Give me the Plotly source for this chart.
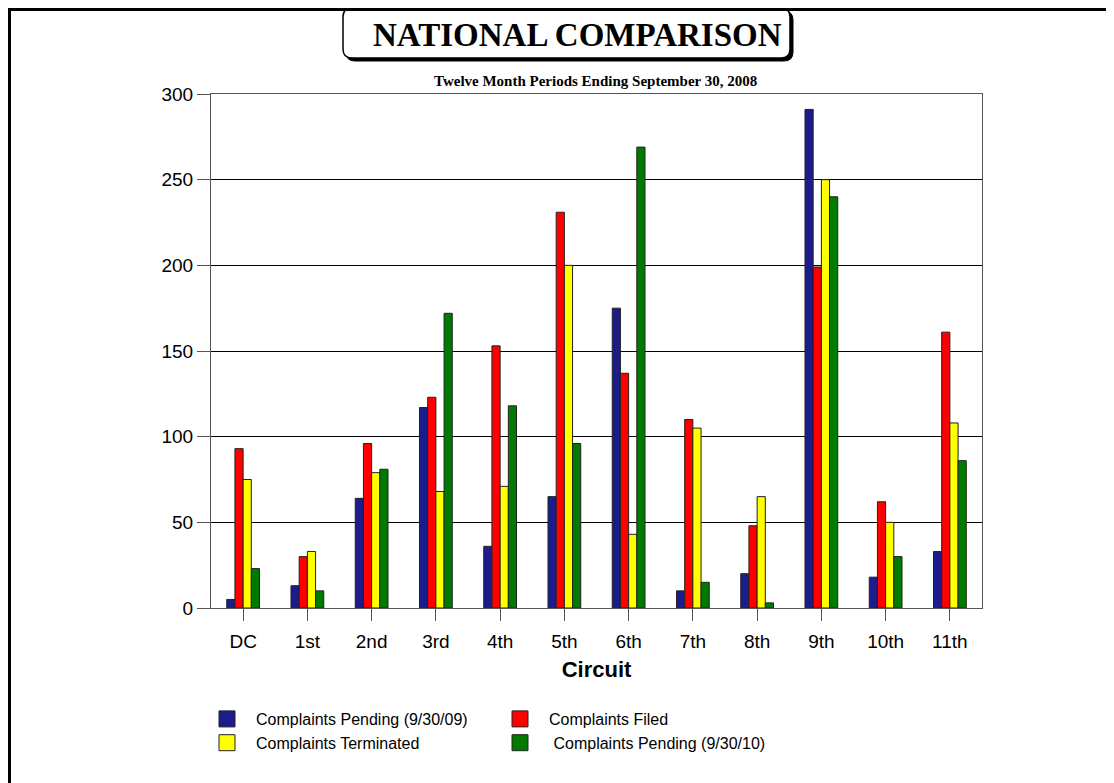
import plotly.graph_objects as go

circuits = ["DC", "1st", "2nd", "3rd", "4th", "5th", "6th", "7th", "8th", "9th", "10th", "11th"]

pending_09 = [5, 13, 64, 117, 36, 65, 175, 10, 20, 291, 18, 33]
filed = [93, 30, 96, 123, 153, 231, 137, 110, 48, 199, 62, 161]
terminated = [75, 33, 79, 68, 71, 200, 43, 105, 65, 250, 50, 108]
pending_10 = [23, 10, 81, 172, 118, 96, 269, 15, 3, 240, 30, 86]

series_names = ["Complaints Pending (9/30/09)", "Complaints Filed",
                "Complaints Terminated", " Complaints Pending (9/30/10)"]
series_colors = ["#1c1c8c", "#ff0000", "#ffff00", "#007a00"]
series_legend = ["legend", "legend2", "legend", "legend2"]

# page is drawn with an 8px body margin, so the figure is a bit smaller
OFF = 8
FW, FH = 1114 - OFF, 783 - OFF
# plot area in page pixels
L, R, T, B = 211, 982, 94, 608


def px_x(x):
    return (x - L) / (R - L)


def px_y(y):
    return (B - y) / (B - T)


fig = go.Figure()
for name, vals, col, lg in zip(series_names, [pending_09, filed, terminated, pending_10],
                               series_colors, series_legend):
    fig.add_trace(go.Bar(x=circuits, y=vals, name=name, marker_color=col,
                         marker_line=dict(color="#222222", width=1), showlegend=False))
    # legend-only entry so the swatch can be a bigger square
    fig.add_trace(go.Scatter(x=[None], y=[None], mode="markers", name=name, legend=lg,
                             marker=dict(symbol="square", size=16, color=col,
                                         line=dict(color="#222222", width=1))))


def rounded(x0, y0, x1, y1, r):
    # rounded rectangle given in page pixels -> paper path
    pts = [
        ("M", x0 + r, y0), ("L", x1 - r, y0), ("Q", x1, y0, x1, y0 + r),
        ("L", x1, y1 - r), ("Q", x1, y1, x1 - r, y1), ("L", x0 + r, y1),
        ("Q", x0, y1, x0, y1 - r), ("L", x0, y0 + r), ("Q", x0, y0, x0 + r, y0),
    ]
    out = []
    for p in pts:
        if p[0] == "Q":
            out.append("Q%.5f,%.5f %.5f,%.5f" % (px_x(p[1]), px_y(p[2]), px_x(p[3]), px_y(p[4])))
        else:
            out.append("%s%.5f,%.5f" % (p[0], px_x(p[1]), px_y(p[2])))
    return " ".join(out) + " Z"


shapes = [
    # title box shadow + box
    dict(type="path", xref="paper", yref="paper", path=rounded(346, 11, 793, 61, 9),
         fillcolor="#000000", line=dict(color="#000000", width=1), layer="above"),
    dict(type="path", xref="paper", yref="paper", path=rounded(343, 8, 790, 58, 9),
         fillcolor="#ffffff", line=dict(color="#000000", width=1.5), layer="above"),
    # page frame (left and top)
    dict(type="line", xref="paper", yref="paper", x0=px_x(9.5), x1=px_x(9.5), y0=px_y(9), y1=px_y(800),
         line=dict(color="#000000", width=3)),
    dict(type="line", xref="paper", yref="paper", x0=px_x(8), x1=px_x(1120), y0=px_y(9.5), y1=px_y(9.5),
         line=dict(color="#000000", width=3)),
]

annotations = [
    dict(text="<b>NATIONAL COMPARISON</b>", xref="paper", yref="paper", x=px_x(577), y=px_y(35),
         xanchor="center", yanchor="middle", showarrow=False,
         font=dict(family="Liberation Serif", size=33, color="#000000")),
    dict(text="<b>Twelve Month Periods Ending September 30, 2008</b>", xref="paper", yref="paper",
         x=px_x(595), y=px_y(81), xanchor="center", yanchor="middle", showarrow=False,
         font=dict(family="Liberation Serif", size=15, color="#000000")),
]

legend_style = dict(orientation="v", xanchor="left", yanchor="top", itemwidth=48,
                    font=dict(family="Liberation Sans", size=16, color="#000000"),
                    bgcolor="rgba(0,0,0,0)", tracegroupgap=0)

fig.update_layout(
    width=FW, height=FH,
    margin=dict(l=L - OFF, r=FW - (R - OFF), t=T - OFF, b=FH - (B - OFF), pad=0),
    paper_bgcolor="white", plot_bgcolor="white",
    barmode="group", bargap=0.49, bargroupgap=0,
    font=dict(family="Liberation Sans", color="#000000"),
    shapes=shapes, annotations=annotations,
    legend=dict(x=px_x(198), y=px_y(702), **legend_style),
    legend2=dict(x=px_x(491), y=px_y(702), **legend_style),
)

fig.update_xaxes(
    range=[-0.5, 11.5], showline=True, linecolor="#555555", linewidth=1, mirror=True,
    ticks="outside", ticklen=12, tickcolor="#555555", ticklabelstandoff=4,
    tickfont=dict(size=19, family="Liberation Sans"),
    title=dict(text="<b>Circuit</b>", font=dict(size=22, family="Liberation Sans"), standoff=10),
    showgrid=False,
)
fig.update_yaxes(
    range=[0, 300], dtick=50, showline=True, linecolor="#555555", linewidth=1, mirror=True,
    ticks="outside", ticklen=13, tickcolor="#555555",
    tickfont=dict(size=19, family="Liberation Sans"),
    showgrid=True, gridcolor="#000000", gridwidth=1, zeroline=False,
)

fig.write_html("out.html")
